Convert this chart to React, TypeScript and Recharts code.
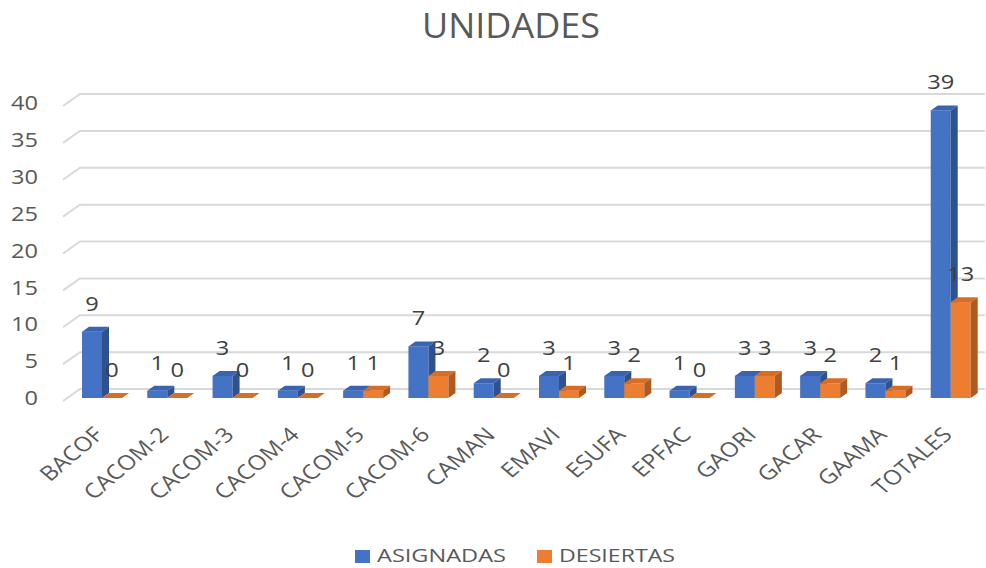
import React from 'react';
import { BarChart, Bar, XAxis, YAxis, CartesianGrid, LabelList, Legend } from 'recharts';

const categories = ['BACOF', 'CACOM-2', 'CACOM-3', 'CACOM-4', 'CACOM-5', 'CACOM-6', 'CAMAN', 'EMAVI', 'ESUFA', 'EPFAC', 'GAORI', 'GACAR', 'GAAMA', 'TOTALES'];
const asignadas = [9, 1, 3, 1, 1, 7, 2, 3, 3, 1, 3, 3, 2, 39];
const desiertas = [0, 0, 0, 0, 1, 3, 0, 1, 2, 0, 3, 2, 1, 13];
const yTicks = [0, 5, 10, 15, 20, 25, 30, 35, 40];

const data = categories.map((c, i) => ({ name: c, asignadas: asignadas[i], desiertas: desiertas[i] }));

const FONT = '"Open Sans", "Noto Sans", sans-serif';
const SX = 1.18;
const DX = 7;
const DY = 5;

const make3D = (front: string, top: string, side: string) => (props: any) => {
  const { x, y, width, height } = props;
  if (x == null || y == null) return null;
  const h = Math.max(0, height || 0);
  const w = width;
  return (
    <g>
      <rect x={x} y={y} width={w} height={h} fill={front} />
      <polygon points={`${x},${y} ${x + DX},${y - DY} ${x + w + DX},${y - DY} ${x + w},${y}`} fill={top} />
      <polygon points={`${x + w},${y} ${x + w + DX},${y - DY} ${x + w + DX},${y + h - DY} ${x + w},${y + h}`} fill={side} />
    </g>
  );
};

const BlueShape = make3D('#4472C4', '#3B64B0', '#2F528F');
const OrangeShape = make3D('#ED7D31', '#D86E26', '#AE5A21');

const GridLine = (props: any) => {
  const { x1, y1, x2 } = props;
  return (
    <path
      key={`g-${y1}`}
      d={`M${x1 - 6},${y1 + 3} L${x1 + 11},${y1 - 9} L${x2 + 2},${y1 - 9}`}
      fill="none"
      stroke="#D9D9D9"
      strokeWidth={2}
    />
  );
};

const YTick = (props: any) => {
  const { y, payload } = props;
  return (
    <g transform={`translate(38,${y}) scale(${SX},1)`}>
      <text x={0} y={0} dy="0.36em" textAnchor="end" fill="#595959" fontSize={20} fontFamily={FONT}>
        {payload.value}
      </text>
    </g>
  );
};

const XTick = (props: any) => {
  const { x, payload } = props;
  return (
    <g transform={`translate(${x + 3},${436}) scale(${SX},1) rotate(-45)`}>
      <text x={0} y={0} textAnchor="end" fill="#595959" fontSize={20.5} fontFamily={FONT}>
        {payload.value}
      </text>
    </g>
  );
};

const ValueLabel = (props: any) => {
  const { x, y, width, value } = props;
  if (x == null || y == null) return null;
  return (
    <g transform={`translate(${x + width / 2},${y - 21}) scale(${SX},1)`}>
      <text x={0} y={0} textAnchor="middle" fill="#404040" fontSize={20} fontFamily={FONT}>
        {value}
      </text>
    </g>
  );
};

const LegendContent = () => (
  <svg width={986} height={40} style={{ display: 'block' }}>
    <rect x={355} y={22} width={15} height={13} fill="#4472C4" />
    <text x={377} y={34} fill="#595959" fontSize={18} fontFamily={FONT} textLength={129} lengthAdjust="spacingAndGlyphs">ASIGNADAS</text>
    <rect x={537} y={22} width={15} height={13} fill="#ED7D31" />
    <text x={559} y={34} fill="#595959" fontSize={18} fontFamily={FONT} textLength={116} lengthAdjust="spacingAndGlyphs">DESIERTAS</text>
  </svg>
);

export default function App() {
  return (
    <div style={{ position: 'absolute', left: 0, top: 0, width: 986, height: 568, background: '#fff' }}>
      <svg style={{ position: 'absolute', left: 0, top: 0 }} width={986} height={60}>
        <text x={511} y={38} textAnchor="middle" fill="#595959" fontSize={35} fontFamily={FONT} textLength={178} lengthAdjust="spacingAndGlyphs">
          UNIDADES
        </text>
      </svg>
      <div style={{ position: 'absolute', left: 0, top: 0 }}>
        <BarChart
          width={986}
          height={568}
          data={data}
          margin={{ top: 103, right: 3, left: 0, bottom: 0 }}
          barGap={0}
          barSize={20}
        >
          <CartesianGrid vertical={false} horizontal={GridLine} />
          <XAxis dataKey="name" axisLine={false} tickLine={false} interval={0} height={130} tick={XTick} />
          <YAxis domain={[0, 40]} ticks={yTicks} width={69} axisLine={false} tickLine={false} tick={YTick} />
          <Legend verticalAlign="bottom" height={40} content={LegendContent} wrapperStyle={{ left: 0, width: 986 }} />
          <Bar dataKey="asignadas" name="ASIGNADAS" fill="#4472C4" isAnimationActive={false} shape={BlueShape}>
            <LabelList dataKey="asignadas" content={ValueLabel} />
          </Bar>
          <Bar dataKey="desiertas" name="DESIERTAS" fill="#ED7D31" isAnimationActive={false} shape={OrangeShape}>
            <LabelList dataKey="desiertas" content={ValueLabel} />
          </Bar>
        </BarChart>
      </div>
    </div>
  );
}
